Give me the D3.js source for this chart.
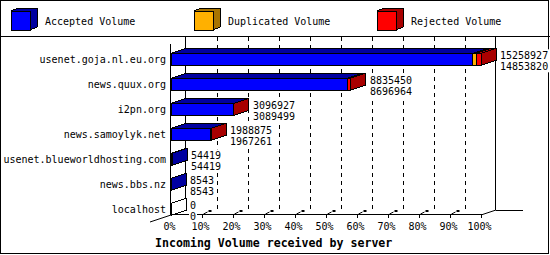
<!DOCTYPE html>
<html>
<head>
<meta charset="utf-8">
<script src="https://cdn.jsdelivr.net/npm/d3@7"></script>
<style>
  body { margin: 0; background: #fff; }
  text { font-family: "DejaVu Sans Mono", monospace; font-size: 10px; fill: #000; }
</style>
</head>
<body>
<div id="my_dataviz"></div>
<script>
// servers and volumes
const servers = ["usenet.goja.nl.eu.org", "news.quux.org", "i2pn.org", "news.samoylyk.net",
    "usenet.blueworldhosting.com", "news.bbs.nz", "localhost"];
const totalVolume = [15258927, 8835450, 3096927, 1988875, 54419, 8543, 0];
const acceptedVolume = [14853820, 8696964, 3089499, 1967261, 54419, 8543, 0];
const duplicatedVolume = [175000, 0, 0, 0, 0, 0, 0];
const rejectedVolume = [230107, 138486, 7428, 21614, 0, 0, 0];
const legendNames = ["Accepted Volume", "Duplicated Volume", "Rejected Volume"];
const pctTicks = [0, 10, 20, 30, 40, 50, 60, 70, 80, 90, 100];

const colors = ["#0000ff", "#ffb000", "#ff0000"];
const shades = ["#0000a0", "#a87400", "#a80000"];

const W = 550, H = 255;
const depthX = 15, depthY = 5;

const svg = d3.select("#my_dataviz")
    .append("svg")
    .attr("width", W)
    .attr("height", H);

svg.append("rect")
    .attr("x", 0.5).attr("y", 0.5)
    .attr("width", 548).attr("height", 253)
    .attr("fill", "#fff").attr("stroke", "#000");

svg.append("line")
    .attr("x1", 0).attr("x2", W).attr("y1", 36.5).attr("y2", 36.5)
    .attr("stroke", "#000");

// legend
const legendX = [11, 194, 377];
const legend = svg.append("g").selectAll("g")
    .data(legendNames)
    .join("g")
    .attr("transform", (d, i) => `translate(${legendX[i]}, 11)`);
legend.append("polygon")
    .attr("points", "0,0 7,-3 26,-3 26,16 19,19 19,0")
    .attr("fill", (d, i) => shades[i])
    .attr("stroke", "#000")
    .attr("shape-rendering", "crispEdges");
legend.append("rect")
    .attr("width", 19).attr("height", 19)
    .attr("fill", (d, i) => colors[i])
    .attr("stroke", "#000")
    .attr("shape-rendering", "crispEdges");
legend.append("text")
    .attr("x", 34).attr("y", 10)
    .attr("dominant-baseline", "central")
    .text(d => d);

// scales
const x = d3.scaleLinear()
    .domain([0, d3.max(totalVolume)])
    .range([171, 481]);
const pct = d3.scaleLinear()
    .domain([0, 100])
    .range([171, 481]);
const y = d3.scaleBand()
    .domain(servers)
    .range([46.8, 221.8]);

const plotTop = 37, floorY = 210, frontY = 215;

// back wall grid
svg.append("g")
    .selectAll("line")
    .data(pctTicks.slice(1, -1))
    .join("line")
    .attr("x1", d => Math.round(pct(d) + depthX) + 0.5)
    .attr("x2", d => Math.round(pct(d) + depthX) + 0.5)
    .attr("y1", plotTop).attr("y2", floorY)
    .attr("stroke", "#000")
    .attr("stroke-dasharray", "4,4");

const frame = svg.append("g").attr("stroke", "#000").attr("fill", "none")
    .attr("shape-rendering", "crispEdges");
frame.append("line").attr("x1", 185.5).attr("x2", 185.5).attr("y1", plotTop).attr("y2", floorY);
frame.append("line").attr("x1", 495.5).attr("x2", 495.5).attr("y1", plotTop).attr("y2", floorY);
frame.append("line").attr("x1", 170.5).attr("x2", 170.5).attr("y1", 44).attr("y2", frontY);
frame.append("line").attr("x1", 171).attr("x2", 481).attr("y1", frontY - 0.5).attr("y2", frontY - 0.5);
frame.append("line").attr("x1", 496).attr("x2", 523).attr("y1", floorY + 0.5).attr("y2", floorY + 0.5);
frame.append("line").attr("x1", 150).attr("y1", 222).attr("x2", 186).attr("y2", floorY)
    .attr("shape-rendering", "auto");
frame.append("line").attr("x1", 481).attr("y1", frontY).attr("x2", 496).attr("y2", floorY)
    .attr("shape-rendering", "auto");

// x axis ticks with their little 3d marks
const ticks = svg.append("g").selectAll("g")
    .data(pctTicks)
    .join("g")
    .attr("transform", d => `translate(${Math.round(pct(d)) + 0.5}, 0)`);
ticks.filter(d => d > 0).append("line")
    .attr("y1", frontY - 1).attr("y2", frontY + 3)
    .attr("stroke", "#000");
ticks.filter(d => d > 0 && d < 100).append("path")
    .attr("d", `M1,${frontY - 1} L5,${frontY - 3}`)
    .attr("stroke", "#000");
ticks.filter(d => d > 0 && d < 100).append("rect")
    .attr("x", 6).attr("y", frontY - 5)
    .attr("width", 3).attr("height", 2)
    .attr("fill", "#000");
ticks.append("text")
    .attr("x", -2).attr("y", 226)
    .attr("text-anchor", "middle")
    .attr("dominant-baseline", "central")
    .text(d => d + "%");

// bars
const rows = servers.map((s, i) => {
    const parts = [acceptedVolume[i], duplicatedVolume[i], rejectedVolume[i]];
    let acc = 0;
    const segs = parts.map((v, k) => {
        const s0 = acc;
        acc += v;
        return {k: k, x0: x(s0), x1: x(acc), v: v};
    });
    return {name: s, segs: segs, total: totalVolume[i], accepted: acceptedVolume[i]};
});

const bar = svg.append("g").selectAll("g")
    .data(rows)
    .join("g")
    .attr("transform", d => `translate(0, ${y(d.name) + y.bandwidth() / 2 - 6})`);

bar.each(function(d) {
    const g = d3.select(this);
    const segs = d.segs.filter(s => s.v > 0);
    segs.forEach(s => {
        g.append("polygon")
            .attr("points", `${s.x0},0 ${s.x0 + depthX},${-depthY} ${s.x1 + depthX},${-depthY} ${s.x1},0`)
            .attr("fill", shades[s.k])
            .attr("stroke", "#000")
            .attr("shape-rendering", "crispEdges");
        g.append("rect")
            .attr("x", s.x0).attr("y", 0)
            .attr("width", s.x1 - s.x0).attr("height", 12)
            .attr("fill", colors[s.k])
            .attr("stroke", "#000")
            .attr("shape-rendering", "crispEdges");
    });
    const last = segs.length ? segs[segs.length - 1] : {k: -1, x1: x(0)};
    g.append("polygon")
        .attr("points", `${last.x1},0 ${last.x1 + depthX},${-depthY} ${last.x1 + depthX},${12 - depthY} ${last.x1},12`)
        .attr("fill", last.k < 0 ? "#fff" : shades[last.k])
        .attr("stroke", "#000")
        .attr("shape-rendering", "crispEdges");
    // value labels sit on a white patch that hides the grid
    const lx = Math.round(last.x1 + depthX + 4);
    const chars = Math.max(String(d.total).length, String(d.accepted).length);
    g.append("rect")
        .attr("x", lx - 1).attr("y", -4)
        .attr("width", chars * 6 + 2).attr("height", 23)
        .attr("fill", "#fff");
    g.append("text")
        .attr("x", lx).attr("y", 2)
        .attr("dominant-baseline", "central")
        .text(d.total);
    g.append("text")
        .attr("x", lx).attr("y", 13)
        .attr("dominant-baseline", "central")
        .text(d.accepted);
});

// server names
svg.append("g").selectAll("text")
    .data(servers)
    .join("text")
    .attr("x", 166)
    .attr("y", d => y(d) + y.bandwidth() / 2)
    .attr("text-anchor", "end")
    .attr("dominant-baseline", "central")
    .text(d => d);

svg.append("text")
    .attr("x", 155).attr("y", 243)
    .attr("dominant-baseline", "central")
    .style("font-weight", "bold")
    .style("font-size", "11.6px")
    .text("Incoming Volume received by server");
</script>
</body>
</html>
